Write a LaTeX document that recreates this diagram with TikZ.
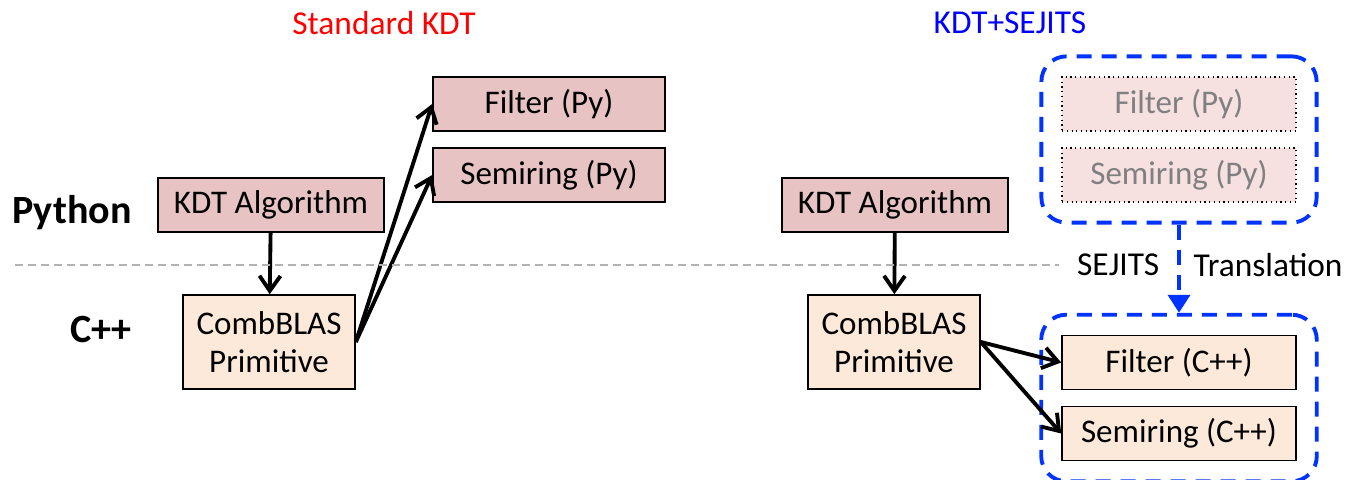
\documentclass[tikz,border=0pt]{standalone}
\usepackage{fontspec}
\setmainfont{Carlito}
\usetikzlibrary{arrows.meta, positioning, fit}

\definecolor{pyfill}{HTML}{E8C3C3}
\definecolor{cppfill}{HTML}{FDE9D9}
\definecolor{fadefill}{HTML}{F6E0E0}
\definecolor{jitblue}{HTML}{0033FF}

\tikzset{
  pybox/.style={draw, line width=0.45pt, fill=pyfill, minimum width=2.26cm, minimum height=0.54cm, inner sep=0pt, font=\fontsize{9.4}{10}\selectfont},
  cppbox/.style={draw, line width=0.45pt, fill=cppfill, minimum width=1.72cm, minimum height=0.94cm, inner sep=0pt, align=center, font=\fontsize{9.4}{11}\selectfont},
  fadebox/.style={draw, densely dotted, line width=0.35pt, fill=fadefill, text=black!50, minimum width=2.34cm, minimum height=0.54cm, inner sep=0pt, font=\fontsize{9.4}{10}\selectfont},
  arr/.style={-{Straight Barb[length=1.5mm, width=2.1mm]}, line width=1.1pt},
  jitgroup/.style={draw=jitblue, line width=1.1pt, dash pattern=on 0.15cm off 0.1cm, rounded corners=0.25cm, inner sep=0.2cm},
  lang/.style={font=\fontsize{11.4}{13}\selectfont\bfseries},
  title/.style={font=\fontsize{9.5}{10}\selectfont}
}

\begin{document}
\begin{tikzpicture}
  \useasboundingbox (0,0) rectangle (13.45,4.80);

  % 标题和语言层
  \node[title, text=red] (std) at (3.84, 4.57) {Standard KDT};
  \node[title, text=blue] (sej) at (10.10, 4.57) {KDT+SEJITS};
  \node[lang] (python) at (0.72, 2.67) {Python};
  \node[lang] (cpp) at (1.01, 1.50) {C++};

  % 左边：标准 KDT
  \node[pybox] (algL) at (2.71, 2.75) {KDT Algorithm};
  \node[cppbox] (combL) at (2.69, 1.38) {CombBLAS\\Primitive};
  \node[pybox, minimum width=2.32cm] (filtL) at (5.49, 3.76) {Filter (Py)};
  \node[pybox, minimum width=2.32cm] (semiL) at (5.49, 3.05) {Semiring (Py)};

  \draw[arr] (algL) -- (combL);
  \draw[arr] (combL.east) -- (filtL.west);
  \draw[arr] (combL.east) -- (semiL.west);

  % 右边：KDT+SEJITS
  \node[pybox] (algR) at (8.95, 2.75) {KDT Algorithm};
  \node[cppbox] (combR) at (8.94, 1.38) {CombBLAS\\Primitive};
  \node[fadebox] (filtPy) at (11.79, 3.76) {Filter (Py)};
  \node[fadebox] (semiPy) at (11.79, 3.05) {Semiring (Py)};
  \node[cppbox, minimum width=2.34cm, minimum height=0.54cm] (filtC) at (11.79, 1.175) {Filter (C++)};
  \node[cppbox, minimum width=2.34cm, minimum height=0.54cm] (semiC) at (11.79, 0.465) {Semiring (C++)};

  \node[jitgroup, fit=(filtPy)(semiPy)] (pygroup) {};
  \node[jitgroup, fit=(filtC)(semiC)] (cppgroup) {};

  \draw[arr] (algR) -- (combR);
  \draw[arr] (combR.east) -- (filtC.west);
  \draw[arr] (combR.east) -- (semiC.west);

  % SEJITS 翻译
  \node[title, anchor=east, inner sep=0pt] (sejits) at (11.60, 2.15) {SEJITS};
  \node[title, anchor=west, inner sep=0pt] (trans) at (11.93, 2.15) {Translation};
  \draw[jitblue, line width=1.1pt, dash pattern=on 0.15cm off 0.1cm, -{Triangle[length=1.8mm, width=2.2mm]}] (pygroup.south) -- (cppgroup.north);

  % 分界线
  \draw[black!30, line width=0.6pt, dash pattern=on 0.08cm off 0.05cm] (0.15, 2.15) -- ([xshift=-0.17cm]sejits.west);
\end{tikzpicture}
\end{document}
